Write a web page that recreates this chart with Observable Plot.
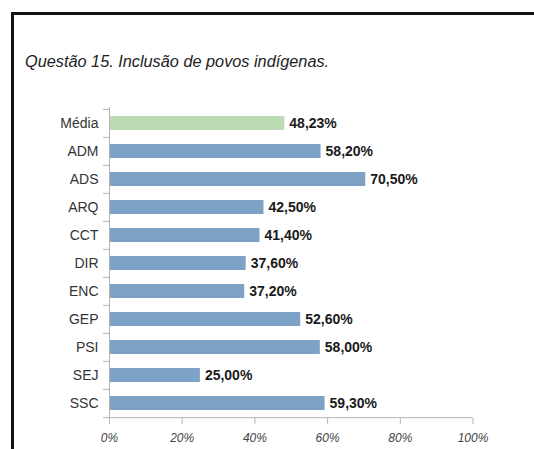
<!DOCTYPE html>
<html>
<head>
<meta charset="utf-8">
<script src="https://cdn.jsdelivr.net/npm/d3@7"></script>
<script src="https://cdn.jsdelivr.net/npm/@observablehq/plot@0.6"></script>
<style>
  html, body { margin: 0; padding: 0; background: #fff; }
  #wrap { position: relative; width: 534px; height: 449px; overflow: hidden; font-family: "Liberation Sans", Arial, sans-serif; }
  #frame { position: absolute; left: 11px; top: 12px; width: 600px; height: 600px; border-left: 3px solid #111; border-top: 3px solid #111; box-sizing: border-box; }
  #title { position: absolute; left: 25px; top: 53px; font-size: 16.3px; line-height: 16px; font-style: italic; color: #222; white-space: nowrap; }
  #chart { position: absolute; left: 0; top: 0; }
</style>
</head>
<body>
<div id="wrap">
  <div id="frame"></div>
  <div id="title">Questão 15. Inclusão de povos indígenas.</div>
  <div id="chart"></div>
</div>
<script>
const categories = ["Média", "ADM", "ADS", "ARQ", "CCT", "DIR", "ENC", "GEP", "PSI", "SEJ", "SSC"];
const values = [48.23, 58.20, 70.50, 42.50, 41.40, 37.60, 37.20, 52.60, 58.00, 25.00, 59.30];
const valueLabels = ["48,23%", "58,20%", "70,50%", "42,50%", "41,40%", "37,60%", "37,20%", "52,60%", "58,00%", "25,00%", "59,30%"];
const xTicks = [0, 20, 40, 60, 80, 100];

const data = categories.map((c, i) => ({cat: c, value: values[i], label: valueLabels[i], avg: i === 0}));
const axisColor = "#b3b3b3";

const chart = Plot.plot({
  width: 534,
  height: 449,
  marginLeft: 109,
  marginRight: 61.5,
  marginTop: 107,
  marginBottom: 31,
  style: {fontFamily: "Liberation Sans, Arial, sans-serif", background: "transparent", overflow: "visible"},
  x: {domain: [0, 100], ticks: xTicks, label: null},
  y: {domain: categories, paddingInner: 0.5, paddingOuter: 0.25, label: null},
  marks: [
    Plot.barX(data, {x: "value", y: "cat", fill: d => d.avg ? "#bbdcb3" : "#7da2c6"}),
    // y-axis line
    Plot.ruleX([0], {stroke: axisColor, strokeWidth: 1}),
    // band boundary ticks on y axis
    Plot.ruleY(categories, {y: d => d, x1: -1.65, x2: 0, dy: -14.14, stroke: axisColor}),
    // x-axis line (bottom boundary)
    Plot.ruleY([categories[categories.length - 1]], {y: d => d, x1: -1.65, x2: 100, dy: 14.14, stroke: axisColor}),
    Plot.axisX({ticks: xTicks, tickFormat: d => d + "%", tickSize: 6, tickPadding: 9, stroke: axisColor, fill: "#444", fontSize: 12, fontStyle: "italic", label: null}),
    Plot.axisY({tickSize: 0, tickPadding: 11, fill: "#333", fontSize: 14, label: null}),
    Plot.text(data, {x: "value", y: "cat", text: "label", dx: 4.5, textAnchor: "start", fontWeight: "bold", fontSize: 14, fill: "#1a1a1a"})
  ]
});
document.getElementById("chart").appendChild(chart);
</script>
</body>
</html>
